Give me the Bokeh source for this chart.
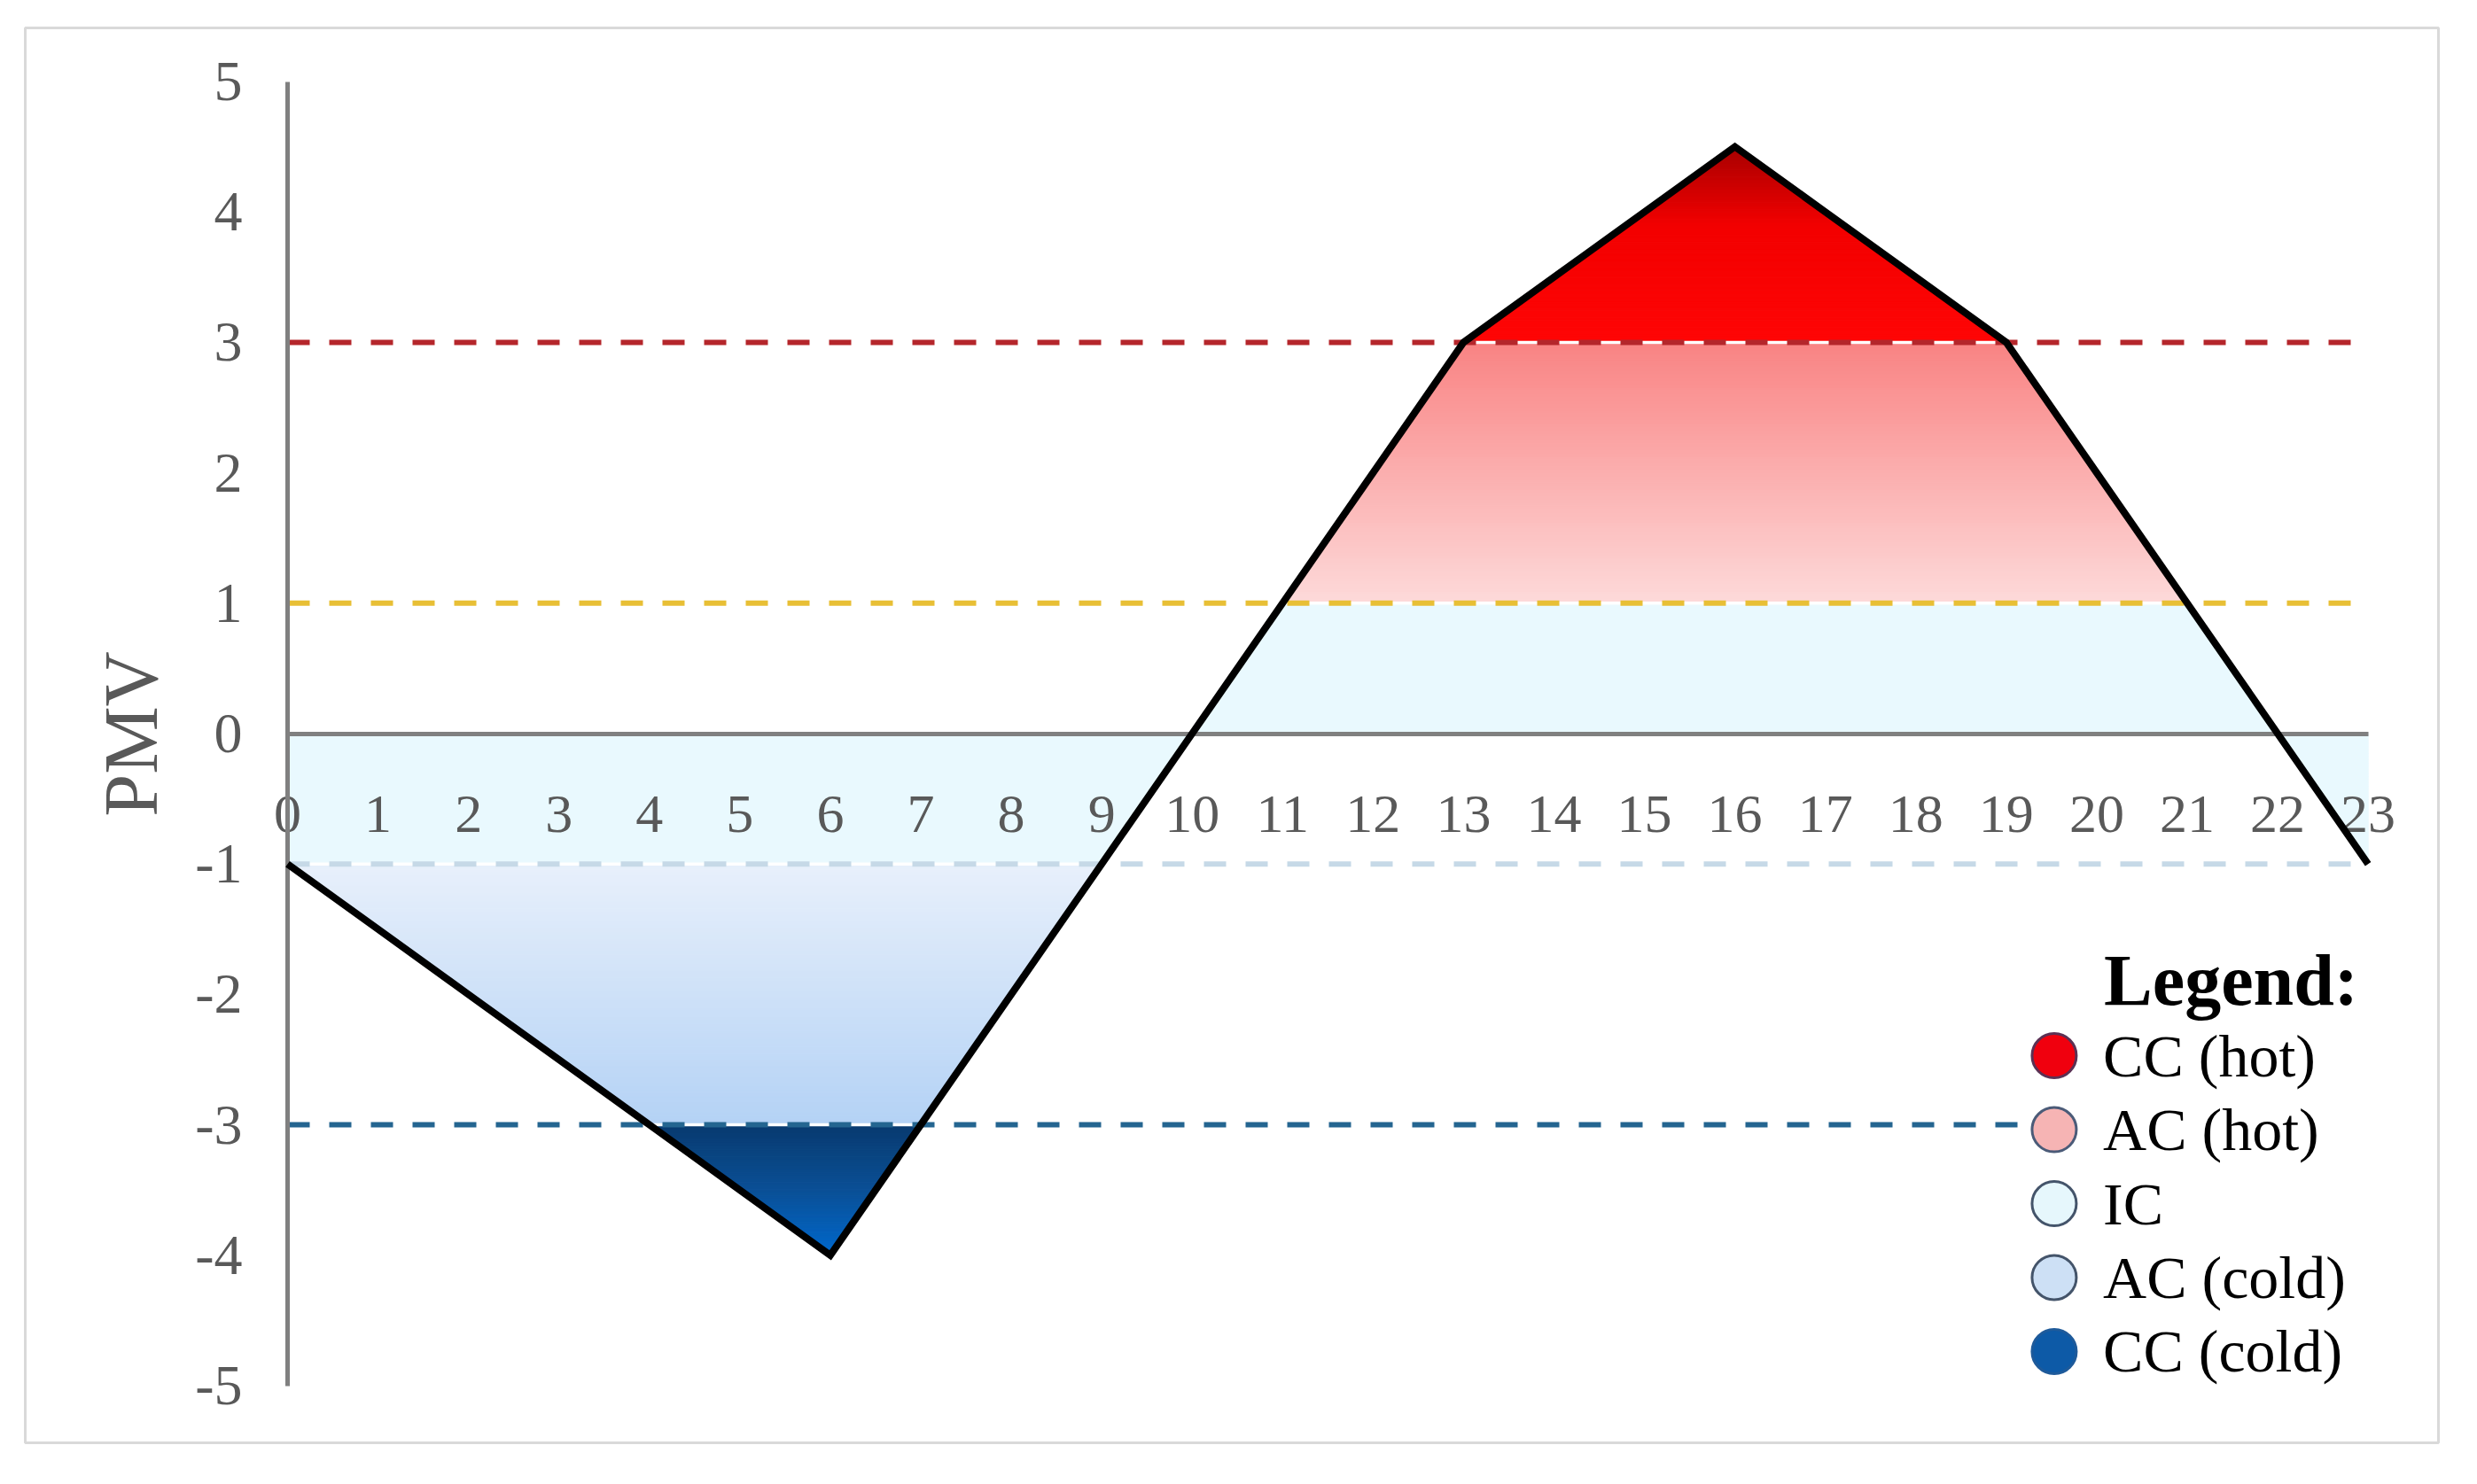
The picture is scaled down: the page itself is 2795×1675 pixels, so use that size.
import numpy as np
from bokeh.plotting import figure
from bokeh.models import (ColumnDataSource, LinearAxis, FixedTicker, Label,
                          Range1d, BoxAnnotation)
from bokeh.embed import file_html
from bokeh.resources import INLINE
from bokeh.core.properties import value

# ---------------- data ----------------
hours = list(range(24))
pmv = [-1, -1.5, -2, -2.5, -3, -3.5, -4, -3, -2, -1, 0, 1, 2, 3,
       3.5, 4, 4.5, 4, 3.5, 3, 2, 1, 0, -1]

y_ticks = [-5, -4, -3, -2, -1, 0, 1, 2, 3, 4, 5]
y_tick_labels = ["-5", "-4", "-3", "-2", "-1", "0", "1", "2", "3", "4", "5"]
x_ticks = hours

threshold_values = [3, 1, -1, -3]
threshold_colors = ["#b5262b", "#e8bf35", "#c6d9e7", "#246590"]

legend_title = "Legend:"
legend_labels = ["CC (hot)", "AC (hot)", "IC", "AC (cold)", "CC (cold)"]
legend_fill = ["#f0000e", "#f6b4b4", "#e6f7fc", "#cde0f5", "#0d5aa7"]
legend_line = ["#5b3154", "#4b5b78", "#44546a", "#44546a", "#1e5a9a"]

# comfort zones: side (+1 hot / -1 cold), |PMV| band, colour stops (|PMV|, colour)
zone_side = [1, 1, 1, -1, -1, -1]
zone_lo = [0, 1, 3, 0, 1, 3]
zone_hi = [1, 3, 5, 1, 3, 5]
zone_stops = [
    [(0, "#e9f9fe"), (1, "#e9f9fe")],
    [(1, "#fddada"), (3, "#f98383")],
    [(3, "#ff0505"), (3.9, "#f20000"), (4.5, "#a80000")],
    [(0, "#e9f9fe"), (1, "#e9f9fe")],
    [(1, "#e8f0fb"), (3, "#b4d2f5")],
    [(3, "#083a6f"), (3.5, "#0a4f95"), (4, "#0068cc")],
]
GAP = 0.016


def hex2rgb(h):
    h = h.lstrip("#")
    return np.array([int(h[i:i + 2], 16) for i in (0, 2, 4)], dtype=float)


def color_at(stops, y):
    ys = [s[0] for s in stops]
    cs = [hex2rgb(s[1]) for s in stops]
    rgb = [np.interp(y, ys, [c[k] for c in cs]) for k in range(3)]
    return "#%02x%02x%02x" % tuple(int(round(v)) for v in rgb)


def band_polys(xs, f, lo, hi):
    """polygons of {lo <= y <= min(f(x), hi)} (lo >= 0)"""
    pts = list(xs)
    for i in range(len(xs) - 1):
        x0, x1, y0, y1 = xs[i], xs[i + 1], f[i], f[i + 1]
        for lev in (lo, hi):
            if (y0 - lev) * (y1 - lev) < 0:
                t = (lev - y0) / (y1 - y0)
                pts.append(x0 + t * (x1 - x0))
    pts = sorted(set(pts))
    fv = np.interp(pts, xs, f)
    polys, run = [], []
    for x, y in zip(pts, fv):
        if y >= lo - 1e-9:
            run.append((x, min(y, hi)))
        else:
            if len(run) >= 2:
                polys.append(run)
            run = []
    if len(run) >= 2:
        polys.append(run)
    out = []
    for r in polys:
        px = [q[0] for q in r] + [r[-1][0], r[0][0]]
        py = [q[1] for q in r] + [lo, lo]
        out.append((px, py))
    return out


# ---------------- figure ----------------
W, H = 2779, 1659
ML, MR, MT, MB = 28, 28, 31, 31
x0_px = 324.0
px_per_h = 102.07
y0_px = 827.5
px_per_u = 147.2
x_start = (ML - x0_px) / px_per_h
x_end = (W - MR - x0_px) / px_per_h
y_end = (y0_px - MT) / px_per_u
y_start = -((H - MB) - y0_px) / px_per_u

p = figure(width=W, height=H, x_range=Range1d(x_start, x_end),
           y_range=Range1d(y_start, y_end), output_backend="svg",
           toolbar_location=None, x_axis_location=None, y_axis_location=None,
           min_border_left=ML, min_border_right=MR, min_border_top=MT,
           min_border_bottom=MB)
p.grid.visible = False
p.outline_line_color = "#d9d9d9"
p.outline_line_width = 3
p.background_fill_color = "white"
p.border_fill_color = "white"

FONT = "Liberation Serif"

# ---------------- gradient fills ----------------
xs_all, ys_all, cols = [], [], []
hx = np.array(hours, dtype=float)
hy = np.array(pmv, dtype=float)
for side, lo, hi, stops in zip(zone_side, zone_lo, zone_hi, zone_stops):
    f = hy * side
    lo_g = lo + (GAP if lo > 0 else 0)
    hi_g = hi - (GAP if hi in (1, 3) else 0)
    n = max(2, int((hi_g - lo_g) * 40))
    edges = np.linspace(lo_g, hi_g, n + 1)
    for a, b in zip(edges[:-1], edges[1:]):
        c = color_at(stops, 0.5 * (a + b))
        for px, py in band_polys(list(hx), list(f), a, b):
            xs_all.append(px)
            ys_all.append([v * side for v in py])
            cols.append(c)

src = ColumnDataSource(dict(xs=xs_all, ys=ys_all, c=cols))
p.patches("xs", "ys", source=src, fill_color="c", line_color="c", line_width=1.2)

# ---------------- threshold lines ----------------
for lev, col in zip(threshold_values, threshold_colors):
    p.line([hours[0], hours[-1]], [lev, lev], line_color=col, line_width=6,
           line_dash="25 22")

# ---------------- axes ----------------
yax = LinearAxis(fixed_location=0, ticker=FixedTicker(ticks=y_ticks),
                 bounds=(y_ticks[0], y_ticks[-1]),
                 major_label_overrides={t: s for t, s in zip(y_ticks, y_tick_labels)},
                 axis_line_color="#808080", axis_line_width=5,
                 major_tick_line_color=None, minor_tick_line_color=None,
                 major_label_standoff=45,
                 major_label_text_font=FONT, major_label_text_font_size="64px",
                 major_label_text_color="#595959",
                 axis_label="PMV", axis_label_text_font=FONT,
                 axis_label_text_font_size="86px",
                 axis_label_text_font_style="normal",
                 axis_label_text_color="#595959", axis_label_standoff=21)
p.add_layout(yax, "left")

xax = LinearAxis(fixed_location=0, ticker=FixedTicker(ticks=x_ticks),
                 bounds=(x_ticks[0], x_ticks[-1]),
                 axis_line_color="#808080", axis_line_width=5,
                 major_tick_line_color=None, minor_tick_line_color=None,
                 major_label_standoff=65,
                 major_label_text_font=FONT, major_label_text_font_size="62px",
                 major_label_text_color="#595959")
p.add_layout(xax, "below")

# ---------------- PMV line ----------------
p.line(hours, pmv, line_color="black", line_width=8, line_join="miter",
       level="annotation")

# ---------------- legend (hand-built) ----------------
leg_x_glyph = 19.53
leg_x_text = 20.07
leg_y0 = -2.47
leg_step = 0.567
leg_y = [leg_y0 - i * leg_step for i in range(len(legend_labels))]

p.add_layout(BoxAnnotation(left=19.22, right=23.6, top=-2.05, bottom=-4.9,
                           fill_color="white", fill_alpha=1, line_color=None))

lsrc = ColumnDataSource(dict(gx=[leg_x_glyph] * len(legend_labels),
                             tx=[leg_x_text] * len(legend_labels),
                             y=leg_y, label=legend_labels,
                             fc=legend_fill, lc=legend_line))
p.scatter("gx", "y", source=lsrc, marker="circle", size=50, fill_color="fc",
          line_color="lc", line_width=3, level="overlay")
p.text("tx", "y", text="label", source=lsrc, text_font=value(FONT),
       text_font_size="68px", text_color="black", text_baseline="middle",
       text_align="left", level="overlay")

p.add_layout(Label(x=20.08, y=-1.89, text=legend_title, text_font=FONT,
                   text_font_size="82px", text_font_style="bold",
                   text_color="black", text_baseline="middle",
                   text_align="left"))

open("out.html", "w").write(file_html(p, INLINE))
